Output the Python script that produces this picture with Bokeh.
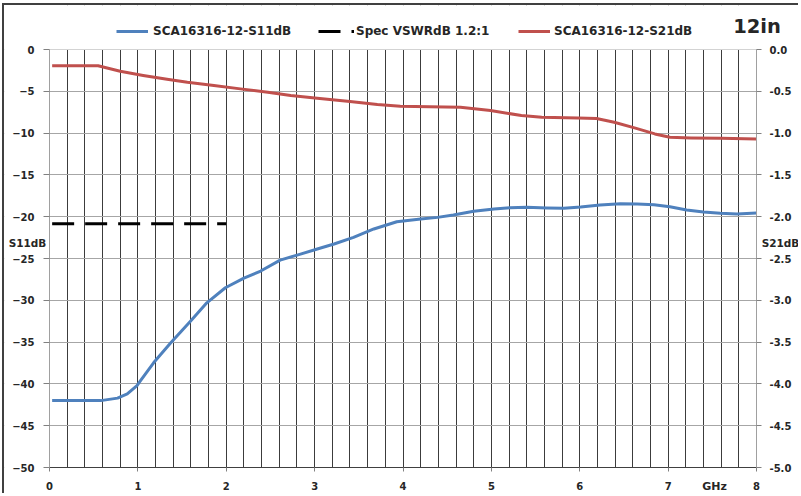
from bokeh.plotting import figure
from bokeh.models import (Range1d, LinearAxis, FixedTicker, Legend, LegendItem,
                          Label, NumeralTickFormatter, BoxAnnotation)
from bokeh.embed import file_html
from bokeh.resources import INLINE

# ---- data ----
freq_s11 = [0.03, 0.3, 0.58, 0.77, 0.88, 0.99, 1.03, 1.18, 1.37, 1.60, 1.78, 1.99,
            2.20, 2.39, 2.61, 2.84, 3.03, 3.22, 3.44, 3.67, 3.93, 4.20, 4.39, 4.57,
            4.80, 5.03, 5.21, 5.40, 5.63, 5.82, 6.01, 6.23, 6.46, 6.65, 6.84, 7.02,
            7.21, 7.40, 7.59, 7.78, 8.0]
s11_db = [-42.0, -42.0, -42.0, -41.7, -41.2, -40.2, -39.6, -37.45, -35.1, -32.45, -30.3,
          -28.5, -27.35, -26.5, -25.2, -24.47, -23.87, -23.27, -22.48, -21.47, -20.6,
          -20.28, -20.08, -19.8, -19.36, -19.08, -18.92, -18.88, -18.96, -19.0, -18.84,
          -18.6, -18.44, -18.48, -18.56, -18.8, -19.2, -19.44, -19.6, -19.68, -19.56]

freq_s21 = [0.03, 0.3, 0.55, 0.8, 1.06, 1.33, 1.56, 1.86, 2.16, 2.47, 2.73, 3.03, 3.40,
            3.71, 3.97, 4.3, 4.65, 4.99, 5.34, 5.57, 5.98, 6.19, 6.39, 6.62, 6.85, 7.02,
            7.26, 7.6, 8.0]
s21_db = [-0.195, -0.195, -0.195, -0.26, -0.31, -0.356, -0.392, -0.431, -0.471, -0.511,
          -0.551, -0.583, -0.623, -0.659, -0.679, -0.685, -0.69, -0.73, -0.79, -0.81,
          -0.818, -0.825, -0.87, -0.938, -1.01, -1.05, -1.058, -1.062, -1.07]

spec_freq = [0.03, 2.0]
spec_db = [-20.83, -20.83]

x_ticks = [0, 1, 2, 3, 4, 5, 6, 7, 8]
x_grid = [round(0.2 * i, 1) for i in range(1, 40)]
y_left_ticks = [0, -5, -10, -15, -20, -25, -30, -35, -40, -45, -50]
y_right_ticks = [0, -0.5, -1.0, -1.5, -2.0, -2.5, -3.0, -3.5, -4.0, -4.5, -5.0]

FONT = "DejaVu Sans"
TXT = "#262626"

# ---- geometry (canvas pixels) ----
W, H = 796, 490
FX0, FX1 = 45, 752        # x = 0 and x = 8
FY0, FY1 = 44, 462        # y = 0 and y = -50
pxx = (FX1 - FX0) / 8.0
pxy = (FY1 - FY0) / 50.0
x_range = Range1d(-FX0 / pxx, 8 + (W - FX1) / pxx)
y_range = Range1d(-50 - (H - FY1) / pxy, FY0 / pxy)

p = figure(width=W, height=H, x_range=x_range, y_range=y_range,
           output_backend="svg", toolbar_location=None, title_location=None,
           min_border_left=0, min_border_right=0, min_border_top=0, min_border_bottom=0,
           x_axis_location=None, y_axis_location=None)
p.styles = {"margin-top": "3px", "margin-left": "2px",
            "border-top": "2px solid #404040", "border-left": "2px solid #404040"}
p.outline_line_color = None
p.background_fill_color = "white"
p.border_fill_color = "white"
p.extra_y_ranges = {"s21": Range1d(y_range.start / 10.0, y_range.end / 10.0)}

# grids
p.xgrid.ticker = FixedTicker(ticks=x_grid)
p.xgrid.grid_line_color = "#3c3c3c"
p.xgrid.grid_line_width = 1
p.ygrid.ticker = FixedTicker(ticks=y_left_ticks)
p.ygrid.grid_line_color = "#a6a6a6"
p.ygrid.grid_line_width = 1

# white covers outside the plotting area (drawn right after the grids)
for kw in (dict(bottom=0), dict(top=-50), dict(right=0), dict(left=8)):
    p.add_layout(BoxAnnotation(fill_color="white", fill_alpha=1, line_color=None,
                               level="underlay", **kw))

# axes placed at fixed data locations
xaxis = LinearAxis(ticker=FixedTicker(ticks=x_ticks), fixed_location=-50, bounds=(0, 8))
yaxis = LinearAxis(ticker=FixedTicker(ticks=y_left_ticks), fixed_location=0,
                   bounds=(-50, 0))
raxis = LinearAxis(y_range_name="s21", ticker=FixedTicker(ticks=y_right_ticks),
                   formatter=NumeralTickFormatter(format="0.0"), fixed_location=8,
                   bounds=(-5, 0))
for ax, lc, to, so in ((xaxis, "#404040", 4, 10), (yaxis, "#a0a0a0", 6, 9),
                       (raxis, "#a0a0a0", 5, 8)):
    ax.axis_line_color = lc
    ax.axis_line_width = 1
    ax.major_tick_line_color = "#808080"
    ax.major_tick_out = to
    ax.major_tick_in = 0
    ax.minor_tick_line_color = None
    ax.major_label_text_font = FONT
    ax.major_label_text_font_size = "10px"
    ax.major_label_text_font_style = "bold"
    ax.major_label_text_color = TXT
    ax.major_label_standoff = so
p.add_layout(xaxis, "below")
p.add_layout(yaxis, "left")
p.add_layout(raxis, "right")

# series
r_s11 = p.line(freq_s11, s11_db, line_color="#4F81BD", line_width=3, line_join="round")
r_spec = p.line(spec_freq, spec_db, line_color="black", line_width=3, line_dash="22 11")
r_s21 = p.line(freq_s21, s21_db, y_range_name="s21", line_color="#C0504D", line_width=3,
               line_join="round")

# legends (one per item, positioned in canvas pixels from the frame's bottom-left)
def add_leg(label, rend, ref_x, gw, standoff):
    leg = Legend(items=[LegendItem(label=label, renderers=[rend])],
                 location=(ref_x - 4, H - (38 - 5)),
                 orientation="horizontal", padding=0, margin=0, spacing=0,
                 glyph_width=gw, glyph_height=14, label_height=14,
                 label_standoff=standoff, border_line_color=None,
                 background_fill_alpha=0, label_text_font=FONT,
                 label_text_font_size="12px", label_text_font_style="bold",
                 label_text_color=TXT)
    p.add_layout(leg, "center")

add_leg("SCA16316-12-S11dB", r_s11, 116, 32, 5)
add_leg("Spec VSWRdB 1.2:1", r_spec, 318, 36, 2)
add_leg("SCA16316-12-S21dB", r_s21, 518, 32, 4)

# free texts
def ref_to_data(rx, ry):
    return ((rx - 4 - FX0) / pxx, -((ry - 5 - FY0) / pxy))

def add_text(txt, rx, ry, size):
    x, y = ref_to_data(rx, ry)
    p.add_layout(Label(x=x, y=y, text=txt, text_font=FONT, text_font_size=size,
                       text_font_style="bold", text_color=TXT, text_align="center",
                       text_baseline="middle"))

add_text("S11dB", 27, 242, "10.5px")
add_text("S21dB", 780, 242, "10.5px")
add_text("GHz", 714, 486, "11px")
add_text("12in", 756.5, 25.5, "19.5px")

open("out.html", "w").write(file_html(p, INLINE))
